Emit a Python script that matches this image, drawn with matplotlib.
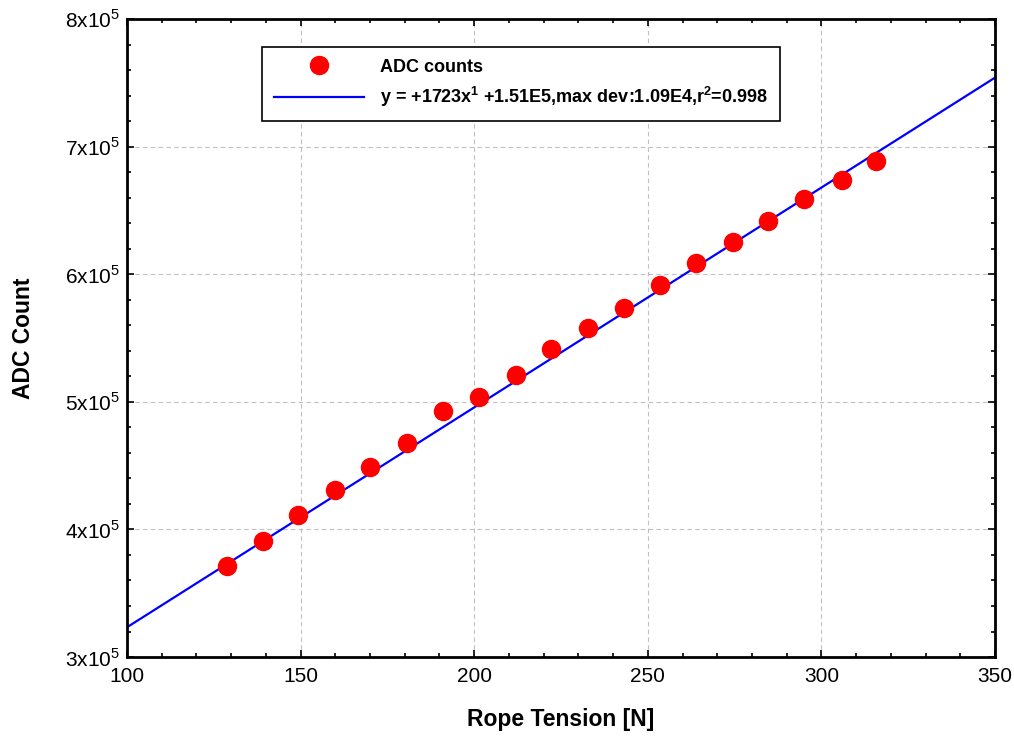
import matplotlib
matplotlib.use('Agg')
import matplotlib.pyplot as plt
from matplotlib.ticker import MultipleLocator, FuncFormatter

plt.rcParams['font.family'] = ['Liberation Sans', 'DejaVu Sans']
plt.rcParams['mathtext.fontset'] = 'custom'
plt.rcParams['mathtext.rm'] = 'Liberation Sans'
plt.rcParams['mathtext.bf'] = 'Liberation Sans:bold'

# measured data
tension = [128.8, 139.2, 149.3, 159.9, 170.0, 180.7, 191.1, 201.4, 212.1, 222.2,
           232.9, 243.2, 253.6, 264.0, 274.4, 284.7, 295.1, 305.8, 315.6]
adc = [371300, 390900, 411300, 430900, 448900, 467700, 492800, 503800, 521000, 541400,
       557800, 573500, 591500, 608800, 625200, 641700, 658900, 673800, 688700]

# linear fit from the chart
slope = 1723
intercept = 1.51e5
fit_x = [100, 350]

fig = plt.figure(figsize=(10.14, 7.36), dpi=100)
ax = fig.add_axes([0.1252, 0.1073, 0.8561, 0.8669])

ax.plot(tension, adc, 'o', color='#ff0000', markersize=13, label='ADC counts', zorder=3)
ax.plot(fit_x, [slope * v + intercept for v in fit_x], color='#0000ff', linewidth=1.6,
        label=r'y = +1723x$\mathbf{^1}$ +1.51E5,max dev:1.09E4,r$\mathbf{^2}$=0.998', zorder=2)

ax.set_xlim(100, 350)
ax.set_ylim(3e5, 8e5)
ax.xaxis.set_major_locator(MultipleLocator(50))
ax.xaxis.set_minor_locator(MultipleLocator(10))
ax.yaxis.set_major_locator(MultipleLocator(1e5))
ax.yaxis.set_minor_locator(MultipleLocator(2e4))
ax.yaxis.set_major_formatter(FuncFormatter(lambda v, p: '%dx10$^{5}$' % round(v / 1e5)))

ax.tick_params(which='both', direction='in', top=True, right=True, width=1.2, labelsize=15)
ax.tick_params(which='major', length=5)
ax.tick_params(which='minor', length=3)
ax.tick_params(axis='x', pad=7)
ax.tick_params(axis='y', pad=5)
for s in ax.spines.values():
    s.set_linewidth(2)

ax.grid(True, which='major', linestyle=(0, (4, 3)), color='#c0c0c0', linewidth=0.8)
ax.set_axisbelow(True)

ax.set_xlabel('Rope Tension [N]', fontsize=16.5, fontweight='bold', labelpad=16)
ax.set_ylabel('ADC Count', fontsize=16.5, fontweight='bold', labelpad=22)

leg = ax.legend(loc='upper left', bbox_to_anchor=(0.1555, 0.956), borderaxespad=0,
                prop={'weight': 'bold', 'size': 13}, fancybox=False, framealpha=1,
                edgecolor='black', handlelength=5.0, handletextpad=0.9, borderpad=0.65,
                labelspacing=0.5)
leg.get_frame().set_linewidth(1.2)

fig.savefig('out.png', dpi=100)
